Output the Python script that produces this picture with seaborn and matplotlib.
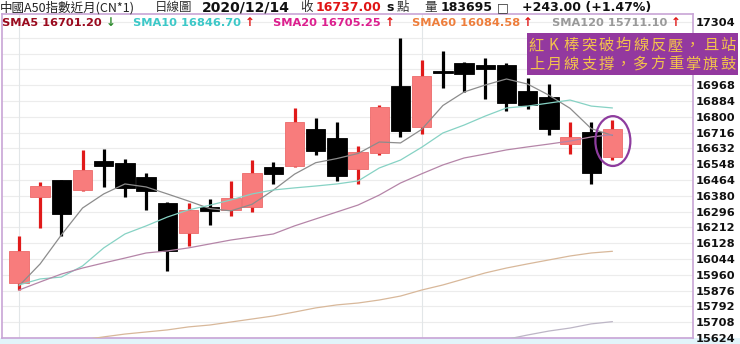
import matplotlib
matplotlib.use("Agg")
import matplotlib.pyplot as plt
from matplotlib.patches import Ellipse, Rectangle
import numpy as np
import pandas as pd
import seaborn as sns

# ---------------- data ----------------
opens  = [15917, 16374, 16464, 16411, 16565, 16554, 16480, 16342, 16182, 16321,
          16305, 16321, 16533, 16538, 16735, 16687, 16523, 16608, 16964, 16746,
          17045, 17086, 17075, 17075, 16936, 16904, 16657, 16718, 16588]
highs  = [16166, 16453, 16466, 16624, 16629, 16576, 16501, 16348, 16342, 16363,
          16459, 16570, 16560, 16847, 16794, 16772, 16645, 16863, 17219, 17102,
          17150, 17091, 17113, 17086, 17005, 16974, 16771, 16774, 16783]
lows   = [15879, 16209, 16166, 16405, 16427, 16374, 16305, 15980, 16113, 16225,
          16273, 16294, 16443, 16532, 16597, 16459, 16443, 16597, 16693, 16709,
          16953, 16932, 16895, 16831, 16843, 16702, 16602, 16443, 16570]
closes = [16087, 16432, 16283, 16517, 16538, 16422, 16406, 16087, 16305, 16299,
          16368, 16501, 16496, 16772, 16618, 16485, 16613, 16852, 16725, 17017,
          17031, 17028, 17054, 16872, 16863, 16735, 16694, 16500, 16737]

sma5   = [15901, 16018, 16172, 16315, 16390, 16443, 16427, 16390, 16352, 16312,
          16300, 16335, 16410, 16495, 16556, 16578, 16605, 16666, 16661, 16733,
          16860, 16932, 16969, 17001, 16974, 16915, 16845, 16737, 16701]
sma10  = [15906, 15938, 15948, 16007, 16103, 16177, 16220, 16267, 16305, 16330,
          16358, 16390, 16411, 16422, 16432, 16443, 16459, 16528, 16570, 16638,
          16714, 16756, 16804, 16847, 16857, 16873, 16889, 16857, 16847]
sma20  = [15879, 15922, 15964, 15996, 16023, 16049, 16076, 16087, 16103, 16124,
          16145, 16161, 16177, 16220, 16257, 16294, 16331, 16384, 16448, 16497,
          16544, 16581, 16602, 16624, 16640, 16655, 16671, 16693, 16705]
sma60  = [15574, 15587, 15600, 15614, 15630, 15645, 15656, 15667, 15683, 15693,
          15709, 15725, 15741, 15762, 15784, 15800, 15810, 15826, 15847, 15879,
          15906, 15938, 15970, 15996, 16018, 16039, 16060, 16076, 16085]
sma120 = [np.nan] * 22 + [15595, 15617, 15640, 15661, 15677, 15699, 15711]

sma_names  = ["SMA5", "SMA10", "SMA20", "SMA60", "SMA120"]
sma_last   = ["16701.20", "16846.70", "16705.25", "16084.58", "15711.10"]
sma_arrows = ["↓", "↑", "↑", "↑", "↑"]

y_ticks = list(range(15624, 17305, 84))
hidden_ticks = [17220, 17136, 17052]   # covered by the note box in the reference

title_main = "中國A50指數近月(CN*1)"
title_kind = "日線圖"
title_date = "2020/12/14"
close_txt = "16737.00"
vol_txt = "183695"
chg_txt = "+243.00 (+1.47%)"
note_lines = ["紅K棒突破均線反壓，且站", "上月線支撐，多方重掌旗鼓"]

# ---------------- style ----------------
sns.set_style("white")
plt.rcParams['font.family'] = ['DejaVu Sans', 'Noto Sans CJK TC']
CJK = ['Noto Sans CJK TC', 'DejaVu Sans']

W, H = 740, 344
fig = plt.figure(figsize=(7.4, 3.44), dpi=100)
fig.patch.set_facecolor("white")
ax = fig.add_axes([2 / W, 6 / H, 691 / W, 324 / H])
ax.set_facecolor("white")

idx = np.arange(len(opens))
o = np.array(opens, float)
c = np.array(closes, float)
up = c >= o

# grid
for t in y_ticks:
    ax.axhline(t, color="#ECECEC", lw=0.8, zorder=0)
for vx in [0, 19]:
    ax.axvline(vx, color="#E2E6E8", lw=0.8, zorder=0)

# wicks
wick_col = ["#E01A1A" if u else "#000000" for u in up]
ax.vlines(idx, lows, highs, colors=wick_col, lw=2.3, zorder=3)
# bodies
body_bottom = np.minimum(o, c)
body_h = np.maximum(np.abs(c - o), 12)
ax.bar(idx, body_h, bottom=body_bottom, width=0.92,
       color=["#F87C7C" if u else "#000000" for u in up],
       edgecolor=["#EC6A6A" if u else "#000000" for u in up],
       linewidth=0.6, zorder=4)

# moving averages via seaborn
df = pd.DataFrame({
    "i": np.tile(idx, 5),
    "v": np.concatenate([sma5, sma10, sma20, sma60, sma120]),
    "name": np.repeat(sma_names, len(idx)),
}).dropna()
line_pal = {"SMA5": "#8C8C8C", "SMA10": "#86D2C4", "SMA20": "#B585A8",
            "SMA60": "#D8B89A", "SMA120": "#BDB6C6"}
sns.lineplot(data=df, x="i", y="v", hue="name", palette=line_pal,
             estimator=None, sort=False, lw=0.9, legend=False, ax=ax, zorder=5)

# highlight ellipse
ax.add_patch(Ellipse((28.02, 16671), width=1.65, height=265, fill=False,
                     ec="#8E3C9E", lw=1.6, zorder=6))

ax.set_xlim(-0.8, 31.8)
ax.set_ylim(15624, 17346.5)
ax.set_xlabel("")
ax.set_ylabel("")
ax.set_xticks([])
ax.yaxis.tick_right()
ax.set_yticks(y_ticks)
ax.set_yticklabels(["" if t in hidden_ticks else str(t) for t in y_ticks],
                   fontsize=8.2, fontweight="bold", color="#111111")
ax.tick_params(axis="y", length=0, pad=2.2)
for s in ax.spines.values():
    s.set_color("#C8A4D6")
    s.set_linewidth(1.2)

# bottom light-blue band (behind everything)
fig.patches.append(Rectangle((0, 0), 1, 6 / H, transform=fig.transFigure,
                             fc="#E2F4FA", ec="none", zorder=-1))

# annotation box
fig.patches.append(Rectangle((527 / W, 1 - 75 / H), (738 - 527) / W, (75 - 32.7) / H,
                             transform=fig.transFigure, fc="#93399F", ec="none",
                             zorder=5))
for line, yc in zip(note_lines, [45.5, 64.0]):
    for k, ch in enumerate(line):
        xc = 536.5 + k * 17.4
        fig.text(xc / W, 1 - yc / H, ch, ha="center", va="center",
                 fontsize=11, color="#F3C24C", family=CJK, zorder=6)

# header row
ty = 1 - 7.5 / H
fig.text(0 / W, ty, title_main, ha="left", va="center", fontsize=9, color="#222222", family=CJK)
fig.text(155 / W, ty, title_kind, ha="left", va="center", fontsize=9, color="#333333", family=CJK)
fig.text(202 / W, ty, title_date, ha="left", va="center", fontsize=10, fontweight="bold", color="#111111")
fig.text(300 / W, ty, "收", ha="left", va="center", fontsize=9, color="#333333", family=CJK)
fig.text(316 / W, ty, close_txt, ha="left", va="center", fontsize=9, fontweight="bold", color="#E01515")
fig.text(386 / W, ty, "s", ha="left", va="center", fontsize=9, fontweight="bold", color="#111111")
fig.text(397 / W, ty, "點", ha="left", va="center", fontsize=9, color="#333333", family=CJK)
fig.text(424 / W, ty, "量", ha="left", va="center", fontsize=9, color="#333333", family=CJK)
fig.text(441 / W, ty, vol_txt, ha="left", va="center", fontsize=9, fontweight="bold", color="#111111")
fig.text(497 / W, ty, "□", ha="left", va="center", fontsize=9, color="#333333")
fig.text(522 / W, ty, chg_txt, ha="left", va="center", fontsize=9, fontweight="bold", color="#111111")

# SMA legend row
leg_cols = ["#9A0A1E", "#3CC8C8", "#DC1F8E", "#EE7E3C", "#9A9A9A"]
arrow_cols = ["#2E8B2E", "#E01515", "#E01515", "#E01515", "#E01515"]
leg_x = [2, 133, 273, 412, 552]
arr_x = [106, 245, 385, 523, 671]
ly = 1 - 23 / H
for n, val, a, col, acol, lx, axx in zip(sma_names, sma_last, sma_arrows,
                                         leg_cols, arrow_cols, leg_x, arr_x):
    fig.text(lx / W, ly, f"{n} {val}", ha="left", va="center", fontsize=8.2,
             fontweight="bold", color=col, zorder=4)
    fig.text(axx / W, ly, a, ha="left", va="center", fontsize=8.5,
             fontweight="bold", color=acol, zorder=4)

fig.savefig("out.png", dpi=100)
